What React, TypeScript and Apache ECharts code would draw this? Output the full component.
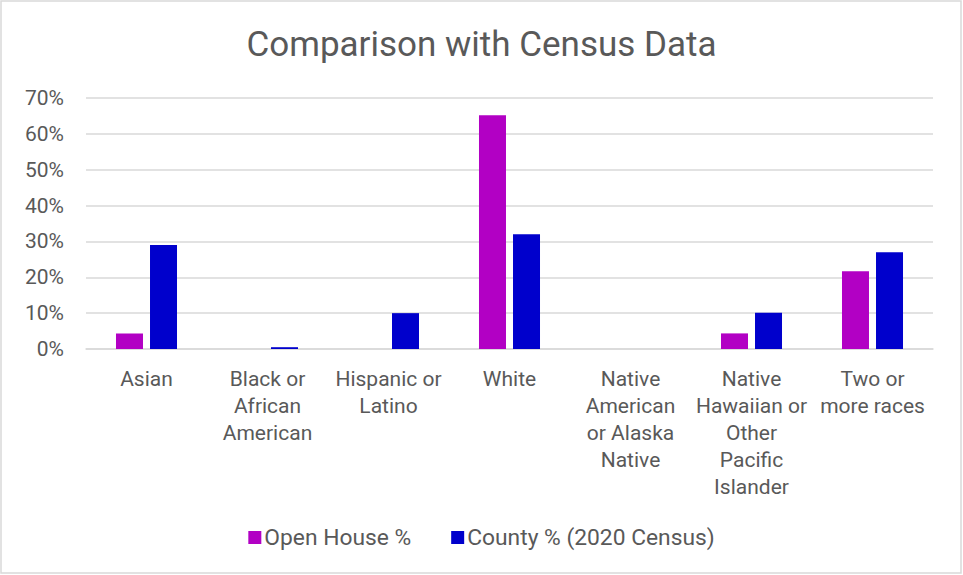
import React, { useEffect, useRef } from "react";
import * as echarts from "echarts";

const categories = [
  "Asian",
  "Black or\nAfrican\nAmerican",
  "Hispanic or\nLatino",
  "White",
  "Native\nAmerican\nor Alaska\nNative",
  "Native\nHawaiian or\nOther\nPacific\nIslander",
  "Two or\nmore races",
];
const openHouse = [4.35, 0, 0, 65.2, 0, 4.35, 21.7];
const county = [29.0, 0.5, 10.0, 32.0, 0, 10.1, 27.0];
const seriesNames = ["Open House %", "County % (2020 Census)"];

const FONT = "Roboto, 'Liberation Sans', sans-serif";
const TEXT = "#595959";

export default function App() {
  const ref = useRef<HTMLDivElement>(null);
  useEffect(() => {
    if (!ref.current) return;
    const chart = echarts.init(ref.current, null, { renderer: "svg" });
    chart.setOption({
      animation: false,
      backgroundColor: "#ffffff",
      textStyle: { fontFamily: FONT, color: TEXT },
      title: {
        text: "Comparison with Census Data",
        left: "center",
        top: 22,
        textStyle: { fontFamily: FONT, fontSize: 35, fontWeight: "normal", color: TEXT },
      },
      legend: {
        bottom: 21,
        left: "center",
        itemWidth: 13,
        itemHeight: 13,
        itemGap: 40,
        icon: "rect",
        textStyle: { fontFamily: FONT, fontSize: 22.8, color: TEXT, padding: [0, 0, 0, -2] },
        data: seriesNames,
      },
      grid: { left: 86, right: 30, top: 98, bottom: 226, containLabel: false },
      xAxis: {
        type: "category",
        data: categories,
        axisLine: { lineStyle: { color: "#d9d9d9", width: 1.5 } },
        axisTick: { show: false },
        axisLabel: {
          interval: 0,
          margin: 16,
          fontFamily: FONT,
          fontSize: 21,
          lineHeight: 27,
          color: TEXT,
        },
      },
      yAxis: {
        type: "value",
        min: 0,
        max: 70,
        interval: 10,
        axisLine: { show: false },
        axisTick: { show: false },
        splitLine: { lineStyle: { color: "#d9d9d9", width: 1.5 } },
        axisLabel: {
          formatter: "{value}%",
          margin: 22,
          fontFamily: FONT,
          fontSize: 21,
          color: TEXT,
        },
      },
      series: [
        {
          name: seriesNames[0],
          type: "bar",
          data: openHouse,
          barWidth: 27,
          barGap: "26%",
          itemStyle: { color: "#B200C4" },
        },
        {
          name: seriesNames[1],
          type: "bar",
          data: county,
          barWidth: 27,
          barGap: "26%",
          itemStyle: { color: "#0000CC" },
        },
      ],
      graphic: [
        {
          type: "rect",
          shape: { x: 1, y: 1, width: 960, height: 572 },
          style: { fill: "none", stroke: "#d9d9d9", lineWidth: 1.5 },
          silent: true,
          z: 100,
        },
      ],
    });
    return () => chart.dispose();
  }, []);
  return (
    <div
      ref={ref}
      style={{ position: "fixed", left: 0, top: 0, width: 963, height: 575 }}
    />
  );
}
